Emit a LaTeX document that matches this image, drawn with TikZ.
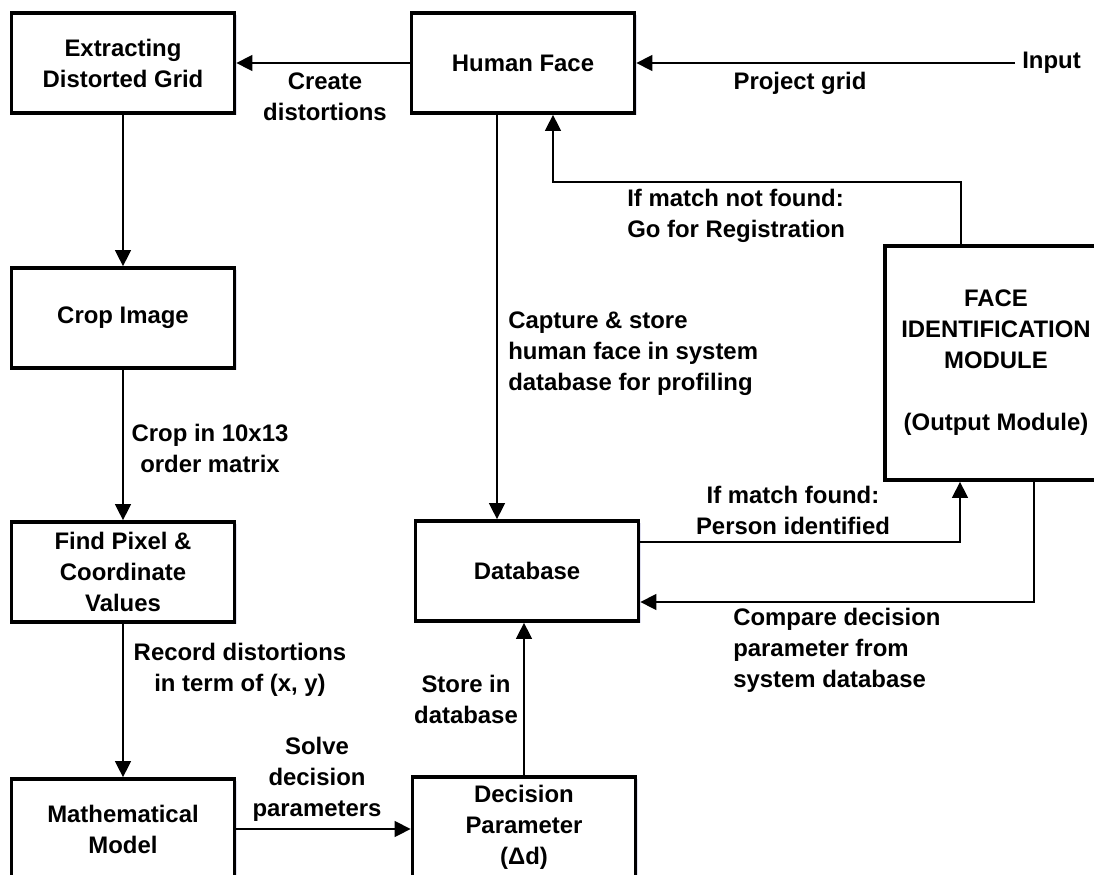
\documentclass[tikz,border=0pt]{standalone}
\usepackage{fontspec}
\setmainfont{Liberation Sans}
\usetikzlibrary{arrows.meta,shadows}

\begin{document}
\begin{tikzpicture}[x=0.025cm,y=-0.025cm,
  font=\fontsize{17}{22}\selectfont\bfseries,
  box/.style={draw,line width=2.4pt,fill=white,align=center,inner sep=0pt,
    minimum width=5.575cm,minimum height=2.5cm,
    drop shadow={shadow xshift=1.5pt,shadow yshift=-1.5pt,opacity=0.12,fill=blue!50!black}},
  lbl/.style={align=center,inner sep=0pt},
  arr/.style={line width=2.1pt,-{Triangle[length=11.5pt,width=11pt]}}]
  \useasboundingbox (0,0) rectangle (1094,875);

  \node[box] (extract) at (123,63) {Extracting\\Distorted Grid};
  \node[box] (human) at (523,63) {Human Face};
  \node[box] (crop) at (123,318) {Crop Image};
  \node[box] (pixel) at (123,572) {Find Pixel \&\\Coordinate\\Values};
  \node[box] (math) at (123,829) {Mathematical\\Model};
  \node[box] (database) at (527,571) {Database};
  \node[box] (decision) at (524,827) {Decision\\Parameter\\(Δd)};
  \node[box,minimum width=5.55cm,minimum height=5.85cm] (faceid) at (996,363)
    {FACE\\IDENTIFICATION\\MODULE\\[22pt](Output Module)};

  \node[lbl,anchor=west,inner xsep=5pt] (input) at (1015,63) {Input};
  \node[lbl] (lproject) at (800,83) {Project grid};
  \node[lbl] (lcreate) at (325,97) {Create\\distortions};
  \node[lbl] (lcrop) at (210,448) {Crop in 10x13\\order matrix};
  \node[lbl] (lrecord) at (240,670) {Record distortions\\in term of (x, y)};
  \node[lbl] (lsolve) at (317,779) {Solve\\decision\\parameters};
  \node[lbl] (lstore) at (466,699) {Store in\\database};
  \node[lbl,align=left,anchor=west] (lcapture) at (508,354) {Capture \& store\\human face in system\\database for profiling};
  \node[lbl,align=left,anchor=west] (lnotfound) at (627,216) {If match not found:\\Go for Registration};
  \node[lbl] (lfound) at (793,510) {If match found:\\Person identified};
  \node[lbl,align=left,anchor=west] (lcompare) at (733,650) {Compare decision\\parameter from\\system database};

  \coordinate (hdown) at (497,113);
  \coordinate (regup) at (553,182);
  \coordinate (regturn) at (961,182);
  \coordinate (foundturn) at (960,542);
  \coordinate (cmpturn) at (1034,602);

  \draw[arr] (input.west) -- (human.east);
  \draw[arr] (human.west) -- (extract.east);
  \draw[arr] (extract) -- (crop);
  \draw[arr] (crop) -- (pixel);
  \draw[arr] (pixel) -- (math);
  \draw[arr] (math.east) -- (math.east -| decision.west);
  \draw[arr] (decision.north) -- (decision.north |- database.south);
  \draw[arr] (human.south -| hdown) -- (database.north -| hdown);
  \draw[arr] (faceid.north -| regturn) -- (regturn) -- (regup) -- (human.south -| regup);
  \draw[arr] (database.east |- foundturn) -- (foundturn) -- (faceid.south -| foundturn);
  \draw[arr] (faceid.south -| cmpturn) -- (cmpturn) -- (database.east |- cmpturn);
\end{tikzpicture}
\end{document}
